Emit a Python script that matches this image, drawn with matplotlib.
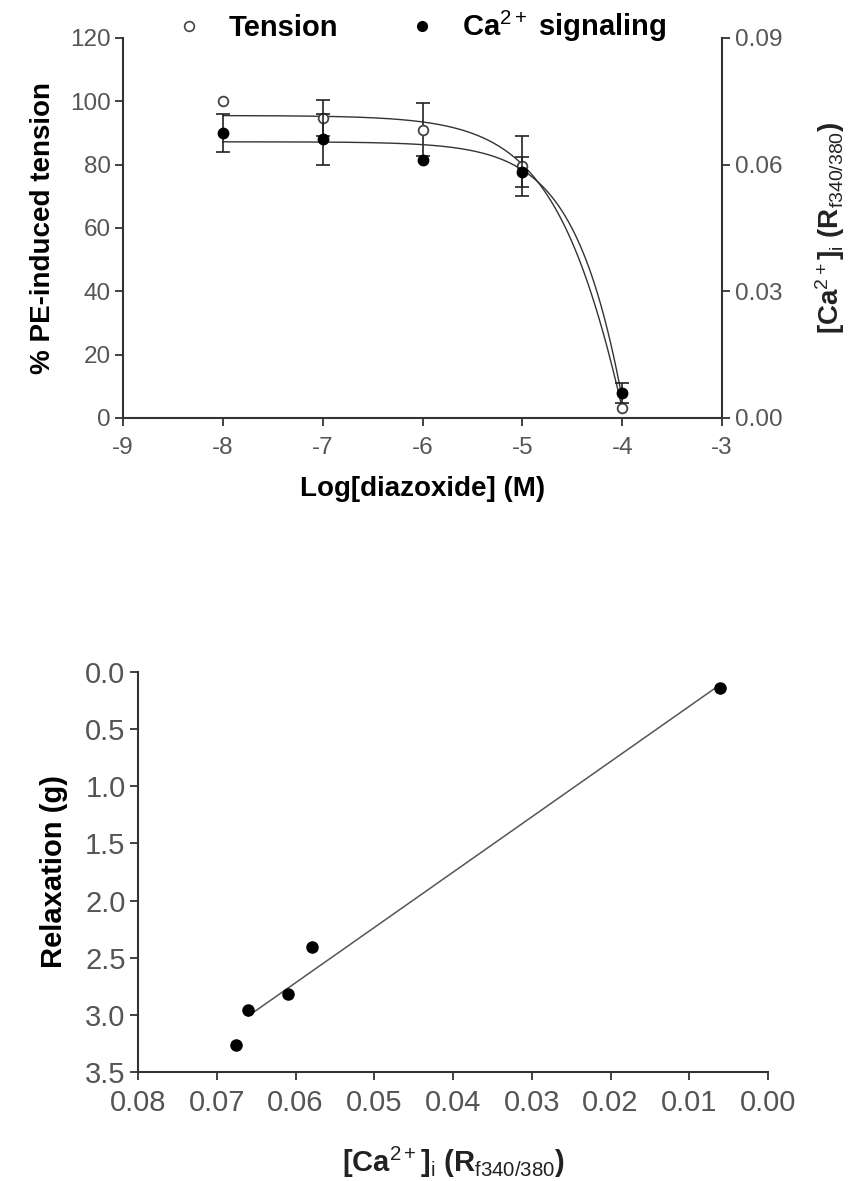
import numpy as np
import matplotlib
matplotlib.use("Agg")
import matplotlib.pyplot as plt
from matplotlib.lines import Line2D
from matplotlib.ticker import FormatStrFormatter

plt.rcParams['font.family'] = ['Liberation Sans', 'DejaVu Sans']
plt.rcParams['mathtext.fontset'] = 'custom'
plt.rcParams['mathtext.rm'] = 'Liberation Sans'
plt.rcParams['mathtext.it'] = 'Liberation Sans:italic'
plt.rcParams['mathtext.bf'] = 'Liberation Sans:bold'
plt.rcParams['axes.unicode_minus'] = False

# ---------------- data ----------------
log_conc = [-8, -7, -6, -5, -4]
tension = [100.0, 94.7, 91.0, 79.5, 3.2]
tension_err = [0.0, 5.7, 8.3, 9.5, 0.0]
ca_signal = [0.0675, 0.0660, 0.0611, 0.0583, 0.0059]
ca_err = [0.0045, 0.0060, 0.0, 0.0035, 0.0023]

# fitted curve parameters
tension_fit = {"top": 95.5, "bottom": -230.5, "logic50": -3.553, "hill": 0.9}
ca_fit = {"top": 0.0654, "bottom": -0.557, "logic50": -3.035, "hill": 1.0}

ca_corr = [0.0675, 0.0660, 0.0610, 0.0579, 0.0061]
relaxation = [3.26, 2.96, 2.82, 2.41, 0.14]

top_xticks = [-9, -8, -7, -6, -5, -4, -3]
top_yticks = [0, 20, 40, 60, 80, 100, 120]
right_yticks = [0.00, 0.03, 0.06, 0.09]
bot_xticks = [0.08, 0.07, 0.06, 0.05, 0.04, 0.03, 0.02, 0.01, 0.00]
bot_yticks = [0.0, 0.5, 1.0, 1.5, 2.0, 2.5, 3.0, 3.5]


def sigmoid(x, p):
    return p["bottom"] + (p["top"] - p["bottom"]) / (1 + 10 ** ((x - p["logic50"]) * p["hill"]))


SPINE = '#333333'
TICKLAB = '#555555'

fig = plt.figure(figsize=(8.52, 11.81), dpi=100)

# ---------------- top panel ----------------
ax = fig.add_axes([0.1444, 0.6461, 0.7031, 0.3218])
ax2 = ax.twinx()

xs = np.linspace(min(log_conc), max(log_conc), 400)
ax.plot(xs, sigmoid(xs, tension_fit), color='#333333', lw=1.0, zorder=2)
ax2.plot(xs, sigmoid(xs, ca_fit), color='#333333', lw=1.0, zorder=2)

lc = np.array(log_conc, dtype=float)
te = np.array(tension_err)
ce = np.array(ca_err)
m = te > 0
ax.errorbar(lc[m], np.array(tension)[m], yerr=te[m], fmt='none', ecolor='#222222',
            elinewidth=1.2, capsize=5, capthick=1.2, zorder=3)
m2 = ce > 0
ax2.errorbar(lc[m2], np.array(ca_signal)[m2], yerr=ce[m2], fmt='none', ecolor='#222222',
             elinewidth=1.2, capsize=5, capthick=1.2, zorder=3)
ax.plot(log_conc, tension, 'o', ms=7, mfc='white', mec='#444444', mew=1.3, zorder=4)
ax2.plot(log_conc, ca_signal, 'o', ms=7.5, mfc='black', mec='black', zorder=4)

ax.set_xlim(-9, -3)
ax.set_ylim(0, 120)
ax2.set_ylim(0, 0.09)
ax.set_xticks(top_xticks)
ax.set_yticks(top_yticks)
ax2.set_yticks(right_yticks)
ax2.yaxis.set_major_formatter(FormatStrFormatter('%.2f'))

for s in ['top', 'right']:
    ax.spines[s].set_visible(False)
for s in ['top', 'left', 'bottom']:
    ax2.spines[s].set_visible(False)
for a in (ax, ax2):
    for s in a.spines.values():
        s.set_color(SPINE)
        s.set_linewidth(1.5)
    a.tick_params(direction='out', length=6, width=1.3, color=SPINE,
                  labelcolor=TICKLAB, labelsize=17.5, pad=3)
ax.tick_params(axis='x', pad=8)

ax.set_xlabel('Log[diazoxide] (M)', fontsize=20, fontweight='bold', labelpad=12)
ax.set_ylabel('% PE-induced tension', fontsize=20, fontweight='bold', labelpad=10)
ax2.set_ylabel(r'[Ca$^{2+}$]$_{\rm i}$ (R$_{\rm f340/380}$)', fontsize=20,
               fontweight='bold', labelpad=22, color='#222222')

handles = [Line2D([], [], ls='none', marker='o', ms=7, mfc='white', mec='#444444', mew=1.2),
           Line2D([], [], ls='none', marker='o', ms=7, mfc='black', mec='black')]
ax2.legend(handles, ['Tension', r'Ca$^{2+}$ signaling'], loc='center',
           bbox_to_anchor=(0.496, 1.029), ncol=2, frameon=False,
           prop={'size': 21, 'weight': 'bold'}, handlelength=1.0,
           handletextpad=0.85, columnspacing=2.4, borderaxespad=0)

# ---------------- bottom panel ----------------
ax3 = fig.add_axes([0.162, 0.0923, 0.7394, 0.3387])
coef = np.polyfit(ca_corr, relaxation, 1)
lx = np.linspace(ca_corr[1], min(ca_corr), 100)
ax3.plot(lx, np.polyval(coef, lx), color='#555555', lw=1.1, zorder=2)
ax3.plot(ca_corr, relaxation, 'o', ms=8, mfc='black', mec='black', zorder=3)

ax3.set_xlim(0.08, 0.0)
ax3.set_ylim(3.5, 0.0)
ax3.set_xticks(bot_xticks)
ax3.set_yticks(bot_yticks)
ax3.xaxis.set_major_formatter(FormatStrFormatter('%.2f'))
ax3.yaxis.set_major_formatter(FormatStrFormatter('%.1f'))
for s in ['top', 'right']:
    ax3.spines[s].set_visible(False)
for s in ax3.spines.values():
    s.set_color(SPINE)
    s.set_linewidth(1.5)
ax3.tick_params(direction='out', length=6, width=1.3, color=SPINE,
                labelcolor=TICKLAB, labelsize=21, pad=3)
ax3.tick_params(axis='x', pad=6)
ax3.set_xlabel(r'[Ca$^{2+}$]$_{\rm i}$ (R$_{\rm f340/380}$)', fontsize=21,
               fontweight='bold', labelpad=20, color='#222222')
ax3.set_ylabel('Relaxation (g)', fontsize=21, fontweight='bold', labelpad=12)

fig.savefig('out.png', dpi=100, facecolor='white')
